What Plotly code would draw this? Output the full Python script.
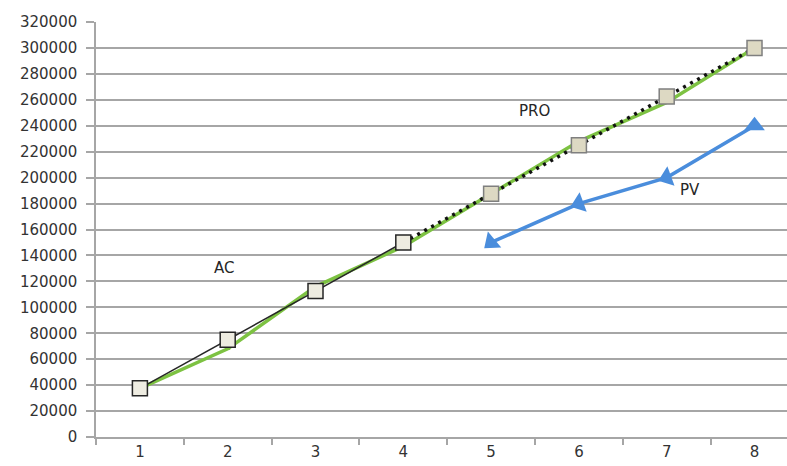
import plotly.graph_objects as go

# Periods on the category axis
periods = ["1", "2", "3", "4", "5", "6", "7", "8"]

# Planned cumulative cost (green reference line, all periods)
plan_values = [37500, 68000, 116000, 147000, 187500, 228000, 258000, 300000]

# Actual cost (AC), periods 1-4
ac_periods = ["1", "2", "3", "4"]
ac_values = [37500, 75000, 112500, 150000]

# Projection (PRO), periods 4-8
pro_periods = ["4", "5", "6", "7", "8"]
pro_values = [150000, 187500, 225000, 262500, 300000]

# Planned value (PV), periods 5-8
pv_periods = ["5", "6", "7", "8"]
pv_values = [150000, 180000, 200000, 240000]

y_ticks = list(range(0, 320001, 20000))

FONT = "DejaVu Sans"
GRID = "#A6A6A6"

fig = go.Figure()

fig.add_trace(go.Scatter(
    x=periods, y=plan_values, mode="lines+markers",
    line=dict(color="#7DC242", width=3.5),
    marker=dict(symbol="triangle-up", size=5, color="#7DC242"),
    showlegend=False, hoverinfo="skip",
))

fig.add_trace(go.Scatter(
    x=ac_periods, y=ac_values, mode="lines",
    line=dict(color="#262626", width=1.5),
    showlegend=False,
))

fig.add_trace(go.Scatter(
    x=pro_periods, y=pro_values, mode="lines",
    line=dict(color="#111111", width=3.5, dash="3px,5px"),
    showlegend=False,
))

fig.add_trace(go.Scatter(
    x=ac_periods, y=ac_values, mode="markers",
    marker=dict(symbol="square", size=15, color="#EEECE1",
                line=dict(color="#262626", width=1.5)),
    showlegend=False,
))

fig.add_trace(go.Scatter(
    x=pro_periods[1:], y=pro_values[1:], mode="markers",
    marker=dict(symbol="square", size=15, color="#DDD9C3",
                line=dict(color="#7F7F7F", width=1.5)),
    showlegend=False,
))

fig.add_trace(go.Scatter(
    x=pv_periods, y=pv_values, mode="lines+markers",
    line=dict(color="#4A8DDC", width=3.5),
    marker=dict(symbol="triangle-up", size=18, color="#4A8DDC",
                angle=[-130, -110, -110, 0]),
    showlegend=False,
))

# Series names placed next to their lines (x given as category index)
labels = [("AC", 0.96, 130000), ("PRO", 4.49, 251500), ("PV", 6.26, 190500)]
for text, xi, yv in labels:
    fig.add_annotation(x=xi, y=yv, text=text, showarrow=False,
                       font=dict(family=FONT, size=15, color="#262626"))

fig.update_layout(
    width=787, height=466,
    margin=dict(l=96, r=0, t=22, b=29),
    paper_bgcolor="white", plot_bgcolor="white",
    font=dict(family=FONT, size=15, color="#333333"),
    showlegend=False,
)

fig.update_xaxes(
    type="category", categoryorder="array", categoryarray=periods,
    range=[-0.5, 7.37], tickson="boundaries",
    ticks="outside", ticklen=6, tickcolor=GRID, tickwidth=1.5,
    showgrid=False, showline=True, linecolor=GRID, linewidth=1.5,
    tickfont=dict(family=FONT, size=15, color="#333333"),
    zeroline=False,
)

fig.update_yaxes(
    range=[0, 320000], tickvals=y_ticks, ticktext=[str(v) for v in y_ticks],
    ticks="outside", ticklen=8, tickcolor=GRID, tickwidth=1.5,
    showgrid=True, gridcolor=GRID, gridwidth=1.5,
    showline=True, linecolor=GRID, linewidth=1.5,
    zeroline=False, ticklabelstandoff=6,
    tickfont=dict(family=FONT, size=15, color="#333333"),
)

fig.write_html("out.html")
